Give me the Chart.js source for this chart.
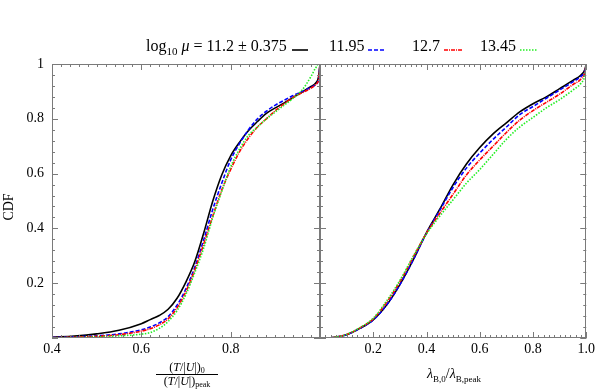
<!DOCTYPE html>
<html>
<head>
<meta charset="utf-8">
<script src="https://cdn.jsdelivr.net/npm/chart.js@4.4.1/dist/chart.umd.min.js"></script>
<style>
  body { margin: 0; width: 598px; height: 389px; position: relative; background: #fff; overflow: hidden;
         font-family: "Liberation Serif", "DejaVu Serif", serif; color: #000; }
  canvas { position: absolute; top: 0; }
  #leftChart { left: 0; }
  #rightChart { left: 310px; }
  .t { position: absolute; white-space: nowrap; font-size: 16px; line-height: 16px; }
  .t sub { font-size: 11px; line-height: 0; }
  svg.key { position: absolute; }
  #ylab { position: absolute; left: -8px; top: 200px; width: 34px; text-align: center; font-size: 14px;
          line-height: 14px; transform: rotate(-90deg); }
  #xlab1 { position: absolute; left: 147px; top: 361px; width: 80px; text-align: center; font-size: 12px; line-height: 12px; }
  #xlab1 .num { display: block; padding-bottom: 1px; border-bottom: 0.8px solid #000; margin: 0 9px; }
  #xlab1 .den { display: block; padding-top: 0; }
  #xlab1 sub { font-size: 8px; line-height: 0; vertical-align: -2px; }
  #xlab2 { position: absolute; left: 394px; top: 367px; width: 120px; text-align: center; font-size: 14px; line-height: 14px; }
  #xlab2 sub { font-size: 9px; line-height: 0; }
</style>
</head>
<body>
<canvas id="leftChart" width="330" height="389"></canvas>
<canvas id="rightChart" width="288" height="389"></canvas>

<div class="t" style="left:146px;top:38px">log<sub>10</sub> <i>μ</i> = 11.2 ± 0.375</div>
<svg class="key" style="left:291px;top:45px" width="18" height="10"><line x1="1" y1="5" x2="17" y2="5" stroke="#000" stroke-width="1.6"/></svg>
<div class="t" style="left:329px;top:38px">11.95</div>
<svg class="key" style="left:367px;top:45px" width="20" height="10"><line x1="1" y1="5" x2="19" y2="5" stroke="#0000ff" stroke-width="1.6" stroke-dasharray="4,2"/></svg>
<div class="t" style="left:412px;top:38px">12.7</div>
<svg class="key" style="left:443px;top:45px" width="20" height="10"><line x1="1" y1="5" x2="19" y2="5" stroke="#ff0000" stroke-width="1.6" stroke-dasharray="4,1,1,1"/></svg>
<div class="t" style="left:480px;top:38px">13.45</div>
<svg class="key" style="left:519px;top:45px" width="20" height="10"><line x1="1" y1="5" x2="19" y2="5" stroke="#22ee22" stroke-width="1.6" stroke-dasharray="1.5,1.5"/></svg>

<div id="ylab">CDF</div>
<div id="xlab1"><span class="num">(<i>T</i>/|<i>U</i>|)<sub>0</sub></span><span class="den">(<i>T</i>/|<i>U</i>|)<sub>peak</sub></span></div>
<div id="xlab2"><i>λ</i><sub>B,0</sub>/<i>λ</i><sub>B,peak</sub></div>

<script>
// left panel: (T/|U|)_0 / (T/|U|)_peak
const leftX = [0.40, 0.45, 0.50, 0.55, 0.60, 0.62, 0.64, 0.66, 0.68, 0.70, 0.72, 0.74, 0.76, 0.78, 0.80,
               0.82, 0.84, 0.86, 0.88, 0.90, 0.92, 0.94, 0.96, 0.98, 0.99, 0.997, 1.0];
const leftMu1120 = [0.003, 0.007, 0.015, 0.028, 0.052, 0.067, 0.082, 0.105, 0.145, 0.205, 0.28, 0.385, 0.50, 0.595, 0.665,
                    0.715, 0.757, 0.79, 0.82, 0.84, 0.858, 0.878, 0.898, 0.918, 0.93, 0.955, 1.0];
const leftMu1195 = [0.002, 0.004, 0.008, 0.015, 0.03, 0.04, 0.055, 0.078, 0.12, 0.18, 0.26, 0.36, 0.47, 0.565, 0.65,
                    0.71, 0.76, 0.80, 0.828, 0.85, 0.868, 0.885, 0.90, 0.915, 0.925, 0.945, 1.0];
const leftMu1270 = [0.001, 0.003, 0.006, 0.012, 0.025, 0.034, 0.048, 0.07, 0.11, 0.17, 0.25, 0.345, 0.445, 0.54, 0.615,
                    0.68, 0.73, 0.77, 0.80, 0.83, 0.855, 0.878, 0.895, 0.912, 0.925, 0.945, 1.0];
const leftMu1345 = [0.0, 0.002, 0.004, 0.008, 0.014, 0.02, 0.035, 0.06, 0.10, 0.16, 0.24, 0.33, 0.44, 0.535, 0.625,
                    0.69, 0.74, 0.77, 0.80, 0.825, 0.85, 0.875, 0.905, 0.955, 0.985, 1.0, 1.0];

// right panel: lambda_B,0 / lambda_B,peak
const rightX = [0.02, 0.05, 0.10, 0.15, 0.20, 0.25, 0.30, 0.35, 0.40, 0.45, 0.50, 0.55, 0.60, 0.65, 0.70,
                0.75, 0.80, 0.85, 0.90, 0.95, 0.98, 0.995, 1.0];
const rightMu1120 = [0, 0.002, 0.012, 0.035, 0.066, 0.12, 0.195, 0.285, 0.385, 0.47, 0.56, 0.635, 0.695, 0.745, 0.785,
                     0.825, 0.855, 0.88, 0.91, 0.94, 0.96, 0.98, 1.0];
const rightMu1195 = [0, 0.002, 0.012, 0.035, 0.066, 0.12, 0.195, 0.285, 0.383, 0.466, 0.55, 0.62, 0.675, 0.725, 0.77,
                     0.815, 0.845, 0.875, 0.905, 0.935, 0.955, 0.975, 1.0];
const rightMu1270 = [0, 0.002, 0.013, 0.037, 0.07, 0.13, 0.205, 0.295, 0.383, 0.455, 0.525, 0.595, 0.65, 0.70, 0.75,
                     0.795, 0.83, 0.86, 0.89, 0.925, 0.945, 0.97, 1.0];
const rightMu1345 = [0, 0.002, 0.013, 0.038, 0.072, 0.135, 0.21, 0.298, 0.38, 0.445, 0.505, 0.565, 0.615, 0.67, 0.725,
                     0.77, 0.805, 0.84, 0.87, 0.905, 0.93, 0.96, 1.0];

const seriesStyle = [
  { label: '11.2 ± 0.375', color: '#000000', dash: [] },
  { label: '11.95', color: '#0000ff', dash: [4, 2] },
  { label: '12.7', color: '#ff0000', dash: [4, 1, 1, 1] },
  { label: '13.45', color: '#22ee22', dash: [1.5, 1.5] }
];

function makeSets(xs, ys) {
  return ys.map((arr, i) => ({
    label: seriesStyle[i].label,
    data: arr.map((v, j) => ({ x: xs[j], y: v })),
    borderColor: seriesStyle[i].color,
    borderDash: seriesStyle[i].dash,
    borderWidth: 1.6,
    pointRadius: 0,
    cubicInterpolationMode: 'monotone',
    order: 4 - i
  }));
}

// frame + inward ticks on all four sides, like the matplotlib original
const frameTicks = {
  id: 'frameTicks',
  afterDatasetsDraw(chart, args, opts) {
    const { ctx, chartArea: a, scales: { x, y } } = chart;
    ctx.save();
    ctx.strokeStyle = '#7a7a7a';
    ctx.lineWidth = 1;
    ctx.strokeRect(Math.round(a.left) + 0.5, Math.round(a.top) + 0.5,
                   Math.round(a.right - a.left) - 1, Math.round(a.bottom - a.top) - 1);
    ctx.beginPath();
    const tick = (px, len, vertical) => {
      px = Math.round(px) + 0.5;
      if (vertical) {
        ctx.moveTo(px, a.bottom); ctx.lineTo(px, a.bottom - len);
        ctx.moveTo(px, a.top); ctx.lineTo(px, a.top + len);
      } else {
        ctx.moveTo(a.left, px); ctx.lineTo(a.left + len, px);
        ctx.moveTo(a.right, px); ctx.lineTo(a.right - len, px);
      }
    };
    for (let v = x.min; v <= x.max + 1e-9; v += opts.xMinor) tick(x.getPixelForValue(v), 3, true);
    x.ticks.forEach(t => tick(x.getPixelForValue(t.value), 6, true));
    for (let v = y.min; v <= y.max + 1e-9; v += 0.04) tick(y.getPixelForValue(v), 3, false);
    y.ticks.forEach(t => tick(y.getPixelForValue(t.value), 6, false));
    ctx.stroke();
    ctx.restore();
  }
};

const tickFont = { family: '"Liberation Serif", serif', size: 14 };

new Chart(document.getElementById('leftChart'), {
  type: 'line',
  data: { datasets: makeSets(leftX, [leftMu1120, leftMu1195, leftMu1270, leftMu1345]) },
  plugins: [frameTicks],
  options: {
    responsive: false,
    animation: false,
    layout: { padding: { top: 64, right: 10, left: 0, bottom: 0 } },
    plugins: { legend: { display: false }, tooltip: { enabled: false }, frameTicks: { xMinor: 0.02 } },
    scales: {
      x: {
        type: 'linear', min: 0.4, max: 1.0,
        grid: { display: false, drawTicks: false }, border: { display: false },
        ticks: { stepSize: 0.2, color: '#000', font: tickFont, padding: 3, maxRotation: 0, autoSkip: false,
                 callback: v => (Math.abs(v - 1) < 1e-6 ? '' : v.toFixed(1)) },
        afterFit: s => { s.height = 51; }
      },
      y: {
        min: 0, max: 1,
        grid: { display: false, drawTicks: false }, border: { display: false },
        ticks: { stepSize: 0.2, color: '#000', font: tickFont, padding: 8,
                 callback: v => (v === 0 ? '' : (Math.abs(v - 1) < 1e-6 ? '1' : v.toFixed(1))) },
        afterFit: s => { s.width = 52; }
      }
    }
  }
});

new Chart(document.getElementById('rightChart'), {
  type: 'line',
  data: { datasets: makeSets(rightX, [rightMu1120, rightMu1195, rightMu1270, rightMu1345]) },
  plugins: [frameTicks],
  options: {
    responsive: false,
    animation: false,
    layout: { padding: { top: 64, right: 10, left: 10, bottom: 0 } },
    plugins: { legend: { display: false }, tooltip: { enabled: false }, frameTicks: { xMinor: 0.02 } },
    scales: {
      x: {
        type: 'linear', min: 0, max: 1.0,
        grid: { display: false, drawTicks: false }, border: { display: false },
        ticks: { stepSize: 0.2, color: '#000', font: tickFont, padding: 3, maxRotation: 0, autoSkip: false,
                 callback: v => (v === 0 ? '' : v.toFixed(1)) },
        afterFit: s => { s.height = 51; }
      },
      y: { display: false, min: 0, max: 1, ticks: { stepSize: 0.2 } }
    }
  }
});
</script>
</body>
</html>
